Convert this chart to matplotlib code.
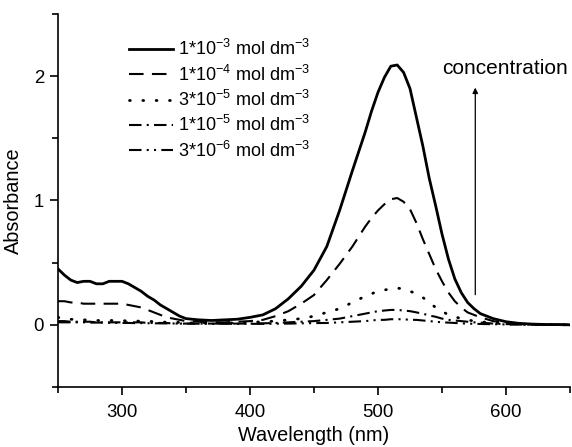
import matplotlib
matplotlib.use("Agg")
import matplotlib.pyplot as plt

plt.rcParams['font.family'] = ['Liberation Sans', 'DejaVu Sans']
plt.rcParams['mathtext.fontset'] = 'custom'
plt.rcParams['mathtext.rm'] = 'Liberation Sans'
plt.rcParams['mathtext.it'] = 'Liberation Sans:italic'
plt.rcParams['mathtext.default'] = 'regular'

wavelength = [250, 255, 260, 265, 270, 275, 280, 285, 290, 295, 300, 305, 310, 315, 320,
              325, 330, 335, 340, 345, 350, 360, 370, 380, 390, 400, 410, 420, 430, 440,
              450, 460, 470, 480, 490, 495, 500, 505, 510, 515, 520, 525, 530, 535, 540,
              545, 550, 555, 560, 565, 570, 575, 580, 590, 600, 610, 620, 630, 640, 650]

abs_1e3 = [0.45, 0.40, 0.36, 0.34, 0.35, 0.35, 0.33, 0.33, 0.35, 0.35, 0.35, 0.33, 0.30, 0.27, 0.23,
           0.20, 0.16, 0.13, 0.10, 0.07, 0.05, 0.04, 0.035, 0.04, 0.045, 0.06, 0.08, 0.13, 0.21, 0.31,
           0.44, 0.63, 0.92, 1.24, 1.55, 1.72, 1.87, 1.99, 2.08, 2.09, 2.03, 1.90, 1.67, 1.44, 1.18,
           0.96, 0.73, 0.53, 0.37, 0.26, 0.18, 0.13, 0.09, 0.05, 0.025, 0.012, 0.006, 0.003, 0.002, 0.0]

abs_1e4 = [0.19, 0.19, 0.18, 0.18, 0.17, 0.17, 0.17, 0.17, 0.17, 0.17, 0.17, 0.16, 0.15, 0.14, 0.12,
           0.10, 0.08, 0.06, 0.05, 0.04, 0.03, 0.025, 0.02, 0.02, 0.025, 0.03, 0.04, 0.07, 0.11, 0.17,
           0.24, 0.36, 0.49, 0.63, 0.79, 0.86, 0.92, 0.97, 1.01, 1.02, 0.99, 0.93, 0.82, 0.69, 0.57,
           0.45, 0.35, 0.26, 0.19, 0.14, 0.10, 0.08, 0.06, 0.03, 0.015, 0.008, 0.004, 0.002, 0.001, 0.0]

abs_3e5 = [0.06, 0.05, 0.045, 0.04, 0.04, 0.04, 0.035, 0.035, 0.035, 0.035, 0.035, 0.03, 0.03, 0.03, 0.03,
           0.025, 0.025, 0.02, 0.02, 0.02, 0.015, 0.015, 0.015, 0.015, 0.015, 0.02, 0.025, 0.03, 0.04, 0.05,
           0.07, 0.10, 0.13, 0.18, 0.23, 0.25, 0.27, 0.28, 0.29, 0.295, 0.29, 0.27, 0.25, 0.22, 0.18,
           0.14, 0.11, 0.08, 0.065, 0.05, 0.04, 0.03, 0.025, 0.015, 0.01, 0.005, 0.003, 0.002, 0.001, 0.0]

abs_1e5 = [0.03, 0.03, 0.025, 0.025, 0.025, 0.025, 0.02, 0.02, 0.02, 0.02, 0.02, 0.02, 0.02, 0.02, 0.015,
           0.015, 0.015, 0.015, 0.01, 0.01, 0.01, 0.01, 0.01, 0.01, 0.01, 0.01, 0.012, 0.015, 0.02, 0.025,
           0.03, 0.04, 0.05, 0.07, 0.09, 0.10, 0.11, 0.115, 0.12, 0.12, 0.115, 0.11, 0.10, 0.09, 0.075,
           0.065, 0.05, 0.04, 0.035, 0.03, 0.025, 0.02, 0.018, 0.01, 0.006, 0.004, 0.002, 0.001, 0.0, 0.0]

abs_3e6 = [0.02, 0.02, 0.02, 0.02, 0.02, 0.018, 0.018, 0.018, 0.016, 0.016, 0.015, 0.015, 0.014, 0.014, 0.013,
           0.012, 0.012, 0.011, 0.011, 0.01, 0.01, 0.009, 0.008, 0.008, 0.008, 0.008, 0.008, 0.009, 0.01, 0.012,
           0.014, 0.015, 0.02, 0.025, 0.03, 0.035, 0.04, 0.04, 0.045, 0.045, 0.045, 0.04, 0.04, 0.035, 0.03,
           0.025, 0.02, 0.018, 0.015, 0.012, 0.01, 0.008, 0.007, 0.005, 0.003, 0.002, 0.001, 0.0, 0.0, 0.0]

labels = ["1*10$^{-3}$ mol dm$^{-3}$", "1*10$^{-4}$ mol dm$^{-3}$", "3*10$^{-5}$ mol dm$^{-3}$",
          "1*10$^{-5}$ mol dm$^{-3}$", "3*10$^{-6}$ mol dm$^{-3}$"]

fig = plt.figure(figsize=(5.72, 4.47), dpi=100)
ax = fig.add_axes([58/572, 1 - 387/447, 512/572, 373/447])

lw = 1.5
ax.plot(wavelength, abs_1e3, color='black', lw=2.0, ls='-', label=labels[0])
ax.plot(wavelength, abs_1e4, color='black', lw=lw, ls=(0, (7, 4)), label=labels[1])
ax.plot(wavelength, abs_3e5, color='black', lw=2.0, ls=(0, (0.3, 4.5)), dash_capstyle='round', label=labels[2])
ax.plot(wavelength, abs_1e5, color='black', lw=lw, ls=(0, (6, 2.5, 1, 2.5)), label=labels[3])
ax.plot(wavelength, abs_3e6, color='black', lw=lw, ls=(0, (6, 2.5, 1, 2.5, 1, 2.5)), label=labels[4])

ax.set_xlim(250, 650)
ax.set_ylim(-0.5, 2.5)
ax.set_xticks([300, 400, 500, 600])
ax.set_xticks([250, 350, 450, 550, 650], minor=True)
ax.set_yticks([0, 1, 2])
ax.set_yticks([-0.5, 0.5, 1.5, 2.5], minor=True)

for s in ['top', 'right']:
    ax.spines[s].set_visible(False)
for s in ['left', 'bottom']:
    ax.spines[s].set_linewidth(1.2)
ax.tick_params(which='major', direction='out', length=6, width=1.2, labelsize=13.4)
ax.tick_params(axis='x', which='major', pad=6)
ax.tick_params(axis='y', which='major', pad=4)
ax.tick_params(which='minor', direction='out', length=4, width=1.2)

ax.set_xlabel("Wavelength (nm)", fontsize=14.3, labelpad=4)
ax.set_ylabel("Absorbance", fontsize=14.3, labelpad=8)

ax.annotate("", xy=(576, 1.93), xytext=(576, 0.22),
            arrowprops=dict(arrowstyle='-|>', color='black', lw=0.9, mutation_scale=8))
ax.text(599, 2.06, "concentration", fontsize=15, ha='center', va='center')

ax.legend(loc='upper left', bbox_to_anchor=(0.125, 0.952), frameon=False, fontsize=13,
          handlelength=2.4, handletextpad=0.3, labelspacing=0.29, borderaxespad=0)

fig.savefig("out.png", dpi=100)
